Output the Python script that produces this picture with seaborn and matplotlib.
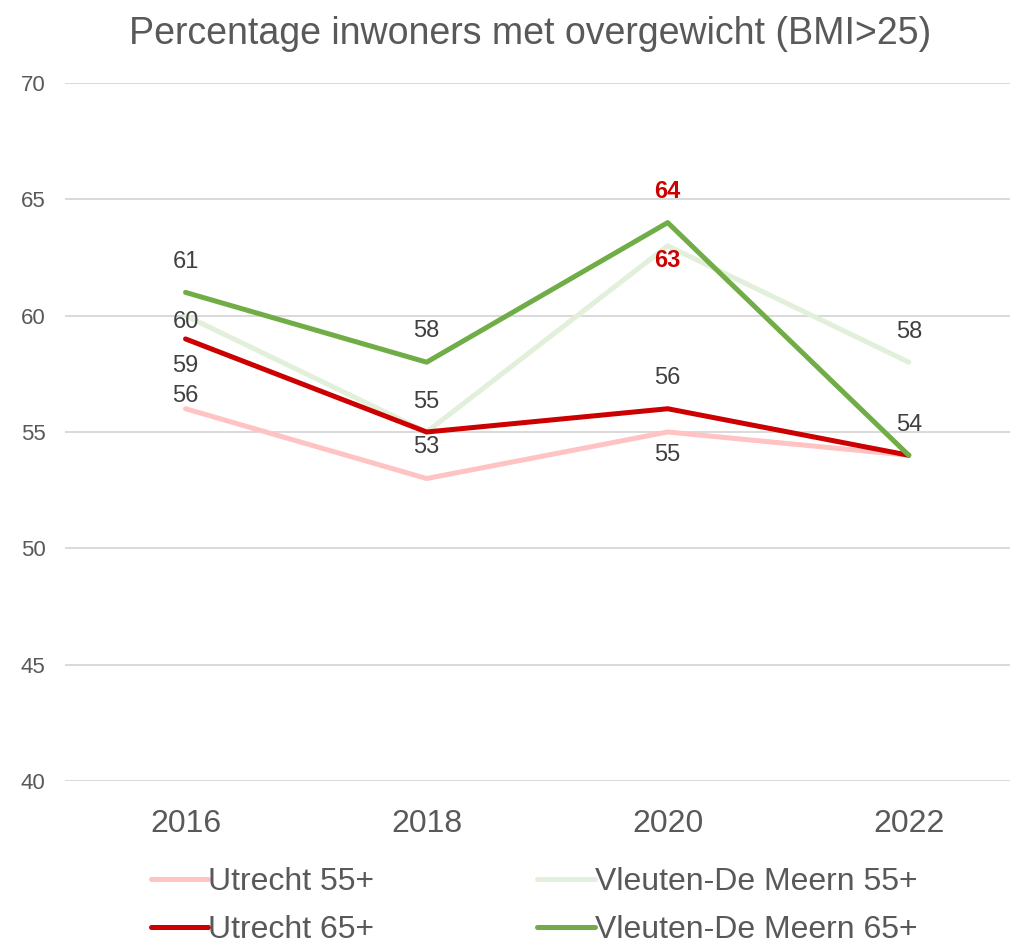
import pandas as pd
import seaborn as sns
import matplotlib.pyplot as plt

# data
jaren = ['2016', '2018', '2020', '2022']
utrecht_55 = [56, 53, 55, 54]
vleuten_55 = [60, 55, 63, 58]
utrecht_65 = [59, 55, 56, 54]
vleuten_65 = [61, 58, 64, 54]
reeksen = ['Utrecht 55+', 'Vleuten-De Meern 55+', 'Utrecht 65+', 'Vleuten-De Meern 65+']
titel = 'Percentage inwoners met overgewicht (BMI>25)'

kleuren = {'Utrecht 55+': '#FFC3C3',
           'Vleuten-De Meern 55+': '#E2EFDA',
           'Utrecht 65+': '#CC0000',
           'Vleuten-De Meern 65+': '#70AD47'}

df = pd.DataFrame({
    'jaar': jaren * 4,
    'waarde': utrecht_55 + vleuten_55 + utrecht_65 + vleuten_65,
    'reeks': [r for r in reeksen for _ in jaren],
})

sns.set_theme(style='white')
plt.rcParams['font.family'] = ['Liberation Sans', 'DejaVu Sans']

fig = plt.figure(figsize=(10.11, 9.44), dpi=100)
ax = fig.add_axes([65/1011, 1-781/944, (1010-65)/1011, (781-83)/944])

sns.lineplot(data=df, x='jaar', y='waarde', hue='reeks', hue_order=reeksen,
             palette=kleuren, linewidth=3.6, solid_capstyle='round', ax=ax, sort=False)

ax.set_ylim(40, 70)
ax.set_xlim(-0.5, 3.42)
ax.set_yticks(range(40, 71, 5))
ax.grid(axis='y', color='#D9D9D9', linewidth=1.4)
ax.grid(axis='x', visible=False)
for s in ax.spines.values():
    s.set_visible(False)
ax.tick_params(axis='y', length=0, pad=14, labelsize=16, labelcolor='#595959')
ax.tick_params(axis='x', length=0, pad=20, labelsize=23, labelcolor='#595959')
ax.set_xlabel('')
ax.set_ylabel('')

# data labels: (reeks, jaar-index, offset in pixels, bold red?)
labels = [
    ('Vleuten-De Meern 65+', 0, -30, False),
    ('Vleuten-De Meern 55+', 0, 6, False),
    ('Utrecht 65+', 0, 27, False),
    ('Utrecht 55+', 0, -13, False),
    ('Vleuten-De Meern 65+', 1, -31, False),
    ('Utrecht 65+', 1, -30, False),
    ('Utrecht 55+', 1, -32, False),
    ('Vleuten-De Meern 65+', 2, -31, True),
    ('Vleuten-De Meern 55+', 2, 15, True),
    ('Utrecht 65+', 2, -31, False),
    ('Utrecht 55+', 2, 23, False),
    ('Vleuten-De Meern 55+', 3, -30, False),
    ('Vleuten-De Meern 65+', 3, -30, False),
]
waarden = {'Utrecht 55+': utrecht_55, 'Vleuten-De Meern 55+': vleuten_55,
           'Utrecht 65+': utrecht_65, 'Vleuten-De Meern 65+': vleuten_65}
for reeks, i, dy, vet in labels:
    v = waarden[reeks][i]
    ax.annotate(str(v), (i, v), xytext=(0, -dy * 0.72), textcoords='offset points',
                ha='center', va='center', fontsize=17,
                color='#CC0000' if vet else '#404040',
                fontweight='bold' if vet else 'normal')

fig.text(530/1011, 1-34/944, titel, ha='center', va='center', fontsize=27, color='#595959')

handles, lbls = ax.get_legend_handles_labels()
volgorde = [0, 2, 1, 3]
ax.legend([handles[k] for k in volgorde], [lbls[k] for k in volgorde],
          ncol=2, loc='center', bbox_to_anchor=(534/1011, 1-906/944),
          bbox_transform=fig.transFigure, frameon=False, fontsize=23,
          labelcolor='#595959', handlelength=1.8, handletextpad=0.0,
          columnspacing=5.1, labelspacing=0.55, borderpad=0)

fig.savefig('out.png', dpi=100)
